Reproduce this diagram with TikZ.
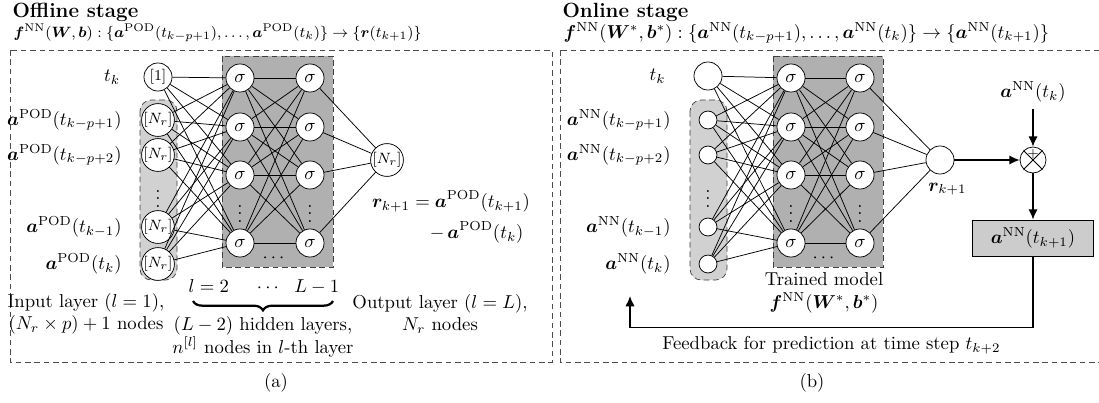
\documentclass[tikz,border=0pt]{standalone}
\usepackage{amsmath}
\usepackage{amssymb}
\usepackage{bm}
\usepackage{tikz}
\usetikzlibrary{positioning,decorations.pathreplacing,arrows.meta}

\begin{document}
\begin{tikzpicture}[
    x=0.535pt, y=-0.535pt,
    neuron/.style={circle, draw, fill=white, minimum size=15pt, inner sep=0pt},
    smallneuron/.style={circle, draw, fill=white, minimum size=9.6pt, inner sep=0pt},
    frame/.style={draw=black!70, dash pattern=on 3pt off 2pt},
    inbox/.style={draw=black!75, densely dashed, fill=black!18, rounded corners=6pt},
    hidbox/.style={draw=black!75, densely dashed, fill=black!31},
    dots/.style={inner sep=0pt},
    heading/.style={anchor=west, font=\fontsize{11}{13}\selectfont\bfseries},
    link/.style={thin},
    arrow/.style={-{Latex[length=5.5pt, width=5pt]}, thick},
    brace/.style={decorate, decoration={brace, amplitude=5pt}, very thick},
    statebox/.style={rectangle, draw, fill=black!20, minimum width=64.7pt, minimum height=19.3pt},
    sumnode/.style={circle, draw, fill=white, minimum size=13.9pt, inner sep=0pt}
]
    \useasboundingbox (0,0) rectangle (1099,403);

    % ---------------- (a) offline stage ----------------
    \node (atitle) [heading] at (6,12) {Offline stage};
    \node (amap) [anchor=west] at (7,33) {\footnotesize$\bm{f}^{\mathrm{NN}}(\bm{W},\bm{b}) : \{\bm{a}^{\mathrm{POD}}(t_{k-p+1}),\dots,\bm{a}^{\mathrm{POD}}(t_k)\} \rightarrow \{\bm{r}(t_{k+1})\}$};
    \draw [frame] (10,50) rectangle (552,362);
    \draw [inbox] (140,100) rectangle (177,280);
    \draw [hidbox] (222,56) rectangle (333,267);

    \node (ain0) [neuron] at (158,77) {\footnotesize$[1]$};
    \node (ain1) [neuron] at (158,120) {\footnotesize$[N_r]$};
    \node (ain2) [neuron] at (158,155) {\footnotesize$[N_r]$};
    \node (ain3) [neuron] at (158,227) {\footnotesize$[N_r]$};
    \node (ain4) [neuron] at (158,264) {\footnotesize$[N_r]$};
    \node [dots] at (158,193) {$\vdots$};

    \node (ahA1) [neuron] at (240,78) {$\sigma$};
    \node (ahA2) [neuron] at (240,127) {$\sigma$};
    \node (ahA3) [neuron] at (240,175) {$\sigma$};
    \node (ahA4) [neuron] at (240,243) {$\sigma$};
    \node (ahB1) [neuron] at (310,78) {$\sigma$};
    \node (ahB2) [neuron] at (310,127) {$\sigma$};
    \node (ahB3) [neuron] at (310,175) {$\sigma$};
    \node (ahB4) [neuron] at (310,243) {$\sigma$};
    \node [dots] at (240,208) {$\vdots$};
    \node [dots] at (310,208) {$\vdots$};
    \node [dots] at (275,258) {$\cdots$};

    \node (aout) [neuron] at (387,160) {\footnotesize$[N_r]$};

    \foreach \i in {0,...,4}
        \foreach \j in {1,...,4}
            \draw [link] (ain\i) -- (ahA\j);
    \foreach \i in {1,...,4} {
        \foreach \j in {1,...,4}
            \draw [link] (ahA\i) -- (ahB\j);
        \draw [link] (ahB\i) -- (aout);
    }

    \node (alab0) [left=9pt of ain0] {$t_k$};
    \node (alab1) [left=7pt of ain1] {$\bm{a}^{\mathrm{POD}}(t_{k-p+1})$};
    \node (alab2) [left=7pt of ain2] {$\bm{a}^{\mathrm{POD}}(t_{k-p+2})$};
    \node (alab3) [left=7pt of ain3] {$\bm{a}^{\mathrm{POD}}(t_{k-1})$};
    \node (alab4) [left=7pt of ain4] {$\bm{a}^{\mathrm{POD}}(t_k)$};

    \node (ares) at (451,218) {$\begin{aligned} \bm{r}_{k+1} &= \bm{a}^{\mathrm{POD}}(t_{k+1})\\ &\hphantom{=}\;{-}\,\bm{a}^{\mathrm{POD}}(t_k)\end{aligned}$};

    \node (alayers) at (264,287) {$l=2 \quad\ \cdots\ \ L-1$};
    \coordinate (abraceL) at (193,301);
    \coordinate (abraceR) at (333,301);
    \draw [brace] (abraceR) -- (abraceL);
    \node (ainput) [align=center] at (86,314) {Input layer $(l=1)$,\\$(N_r\times p)+1$ nodes};
    \node (ahidden) [align=center] at (263,337) {$(L-2)$ hidden layers,\\$n^{[l]}$ nodes in $l$-th layer};
    \node (aoutput) [align=center] at (440,314) {Output layer $(l=L)$,\\$N_r$ nodes};
    \node (acap) at (276,383) {(a)};

    % ---------------- (b) online stage ----------------
    \node (btitle) [heading] at (556,12) {Online stage};
    \node (bmap) [anchor=west] at (557,33) {$\bm{f}^{\mathrm{NN}}(\bm{W}^{*},\bm{b}^{*}) : \{\bm{a}^{\mathrm{NN}}(t_{k-p+1}),\dots,\bm{a}^{\mathrm{NN}}(t_k)\} \rightarrow \{\bm{a}^{\mathrm{NN}}(t_{k+1})\}$};
    \draw [frame] (560,50) rectangle (1102,362);
    \draw [inbox] (690,100) rectangle (727,280);
    \draw [hidbox] (773,56) rectangle (883,267);

    \node (bin0) [neuron] at (708,76) {};
    \node (bin1) [smallneuron] at (708,120) {};
    \node (bin2) [smallneuron] at (708,155) {};
    \node (bin3) [smallneuron] at (708,227) {};
    \node (bin4) [smallneuron] at (708,264) {};
    \node [dots] at (708,193) {$\vdots$};

    \node (bhA1) [neuron] at (791,78) {$\sigma$};
    \node (bhA2) [neuron] at (791,127) {$\sigma$};
    \node (bhA3) [neuron] at (791,175) {$\sigma$};
    \node (bhA4) [neuron] at (791,243) {$\sigma$};
    \node (bhB1) [neuron] at (860,78) {$\sigma$};
    \node (bhB2) [neuron] at (860,127) {$\sigma$};
    \node (bhB3) [neuron] at (860,175) {$\sigma$};
    \node (bhB4) [neuron] at (860,243) {$\sigma$};
    \node [dots] at (791,208) {$\vdots$};
    \node [dots] at (860,208) {$\vdots$};
    \node [dots] at (825,258) {$\cdots$};

    \node (bout) [neuron] at (940,160) {};

    \foreach \i in {0,...,4}
        \foreach \j in {1,...,4}
            \draw [link] (bin\i) -- (bhA\j);
    \foreach \i in {1,...,4} {
        \foreach \j in {1,...,4}
            \draw [link] (bhA\i) -- (bhB\j);
        \draw [link] (bhB\i) -- (bout);
    }

    \node (blab0) [left=11.5pt of bin0] {$t_k$};
    \node (blab1) [left=11.5pt of bin1] {$\bm{a}^{\mathrm{NN}}(t_{k-p+1})$};
    \node (blab2) [left=11.5pt of bin2] {$\bm{a}^{\mathrm{NN}}(t_{k-p+2})$};
    \node (blab3) [left=11.5pt of bin3] {$\bm{a}^{\mathrm{NN}}(t_{k-1})$};
    \node (blab4) [left=11.5pt of bin4] {$\bm{a}^{\mathrm{NN}}(t_k)$};

    \node (brlab) [below=1pt of bout, xshift=4pt] {$\bm{r}_{k+1}$};
    \node (btrained) [align=center] at (824,293) {Trained model\\$\bm{f}^{\mathrm{NN}}(\bm{W}^{*},\bm{b}^{*})$};

    \node (bsum) [sumnode] at (1033,160) {};
    \draw (bsum.north west) -- (bsum.south east);
    \draw (bsum.north east) -- (bsum.south west);
    \node [inner sep=0pt] at ([yshift=3.2pt]bsum.center) {\scriptsize$+$};
    \node (bcur) at (1033,92) {$\bm{a}^{\mathrm{NN}}(t_k)$};
    \node (bnext) [statebox] at (1033,238) {$\bm{a}^{\mathrm{NN}}(t_{k+1})$};
    \coordinate (bfeed) at (630,296);

    \draw [arrow] (bcur) -- (bsum);
    \draw [arrow] (bout) -- (bsum);
    \draw [arrow] (bsum) -- (bnext);
    \draw [arrow] (bnext.south) -- ++(0,71) -| node[pos=0.25, below=1pt] {Feedback for prediction at time step $t_{k+2}$} (bfeed);
    \node (bcap) at (812,383) {(b)};
\end{tikzpicture}
\end{document}
